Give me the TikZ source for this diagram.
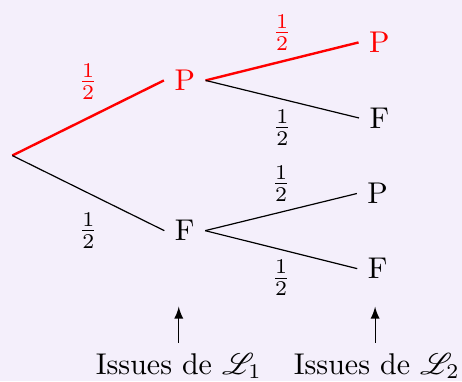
\documentclass[tikz,border=0pt]{standalone}
\usepackage{amsmath, amssymb}
\usepackage{mathrsfs}
\usetikzlibrary{arrows.meta}
\definecolor{fond}{RGB}{244,239,251}

\begin{document}
\begin{tikzpicture}[>=latex, chemin/.style={red, thick}]
    \useasboundingbox[fill=fond] (-0.144,-2.642) rectangle (5.268,1.822);

    \coordinate (O) at (0,0);
    \node[red] (P) at (2.02,0.88) {P};
    \node (F) at (2.02,-0.88) {F};

    \node[red] (PP) at (4.30,1.325) {P};
    \node (PF) at (4.30,0.44) {F};
    \node (FP) at (4.28,-0.445) {P};
    \node (FF) at (4.28,-1.325) {F};

    \draw[chemin] (O) -- (P.west) node[midway, above=2.5pt] {\(\frac{1}{2}\)};
    \draw (O) -- (F.west) node[midway, below=3pt] {\(\frac{1}{2}\)};

    \draw[chemin] (P.east) -- (PP.west) node[midway, above] {\(\frac{1}{2}\)};
    \draw (P.east) -- (PF.west) node[midway, below] {\(\frac{1}{2}\)};
    \draw (F.east) -- (FP.west) node[midway, above] {\(\frac{1}{2}\)};
    \draw (F.east) -- (FF.west) node[midway, below] {\(\frac{1}{2}\)};

    \node[anchor=base] (I1) at (1.95,-2.563) {Issues de \(\mathscr{L}_1\)};
    \node[anchor=base] (I2) at (4.27,-2.563) {Issues de \(\mathscr{L}_2\)};
    \coordinate (T1) at (1.95,-1.77);
    \coordinate (T2) at (4.25,-1.77);

    \draw[->] (I1.north -| T1) -- (T1);
    \draw[->] (I2.north -| T2) -- (T2);
\end{tikzpicture}
\end{document}
